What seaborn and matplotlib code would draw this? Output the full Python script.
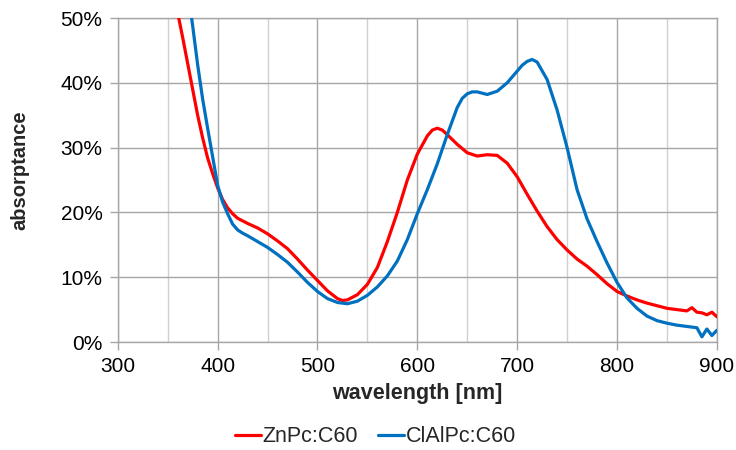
import numpy as np
import pandas as pd
import matplotlib
matplotlib.use("Agg")
import matplotlib.pyplot as plt
import seaborn as sns
from matplotlib.ticker import MultipleLocator, FuncFormatter

# ZnPc:C60 absorptance (%)
zn_wl = [355, 360, 365, 370, 375, 380, 385, 390, 395, 400, 405, 410, 415, 420, 430,
         440, 450, 460, 470, 480, 490, 500, 510, 520, 525, 530, 540, 550, 560, 570,
         580, 590, 600, 610, 615, 620, 625, 630, 640, 650, 660, 670, 680, 690, 700, 710, 720,
         730, 740, 750, 760, 770, 780, 790, 800, 810, 820, 830, 840, 850, 860, 870,
         875, 880, 885, 890, 895, 900]
zn_val = [55, 50.8, 47, 43, 39, 35, 31.5, 28.4, 26, 23.8, 22, 20.7, 19.8, 19.1, 18.3,
          17.6, 16.7, 15.6, 14.4, 12.8, 11.1, 9.5, 7.9, 6.7, 6.4, 6.5, 7.3, 8.9, 11.5, 15.5,
          20, 25, 29, 31.8, 32.7, 33, 32.7, 32, 30.5, 29.2, 28.7, 28.9, 28.8, 27.6, 25.5, 22.8, 20.2,
          17.8, 15.8, 14.2, 12.8, 11.7, 10.4, 9, 7.8, 7.1, 6.5, 6, 5.6, 5.2, 5.0, 4.8,
          5.3, 4.6, 4.5, 4.2, 4.6, 3.9]

# ClAlPc:C60 absorptance (%)
cl_wl = [368, 370, 375, 380, 385, 390, 395, 400, 405, 410, 415, 420, 425, 430, 440, 450,
         460, 470, 480, 490, 500, 510, 520, 530, 540, 550, 560, 570, 580, 590, 600,
         610, 620, 630, 640, 645, 650, 655, 660, 670, 680, 690, 700, 705, 710, 715, 720, 730, 740,
         750, 760, 770, 780, 790, 800, 810, 820, 830, 840, 850, 860, 870, 880, 885,
         890, 895, 900]
cl_val = [56, 54.5, 48.8, 42.8, 37.5, 33, 28.6, 24.2, 21.6, 19.8, 18.2, 17.3, 16.8, 16.4, 15.5, 14.6,
          13.5, 12.3, 10.8, 9.2, 7.8, 6.7, 6.1, 5.9, 6.3, 7.2, 8.5, 10.2, 12.5, 15.8, 19.8,
          23.5, 27.5, 32, 36.2, 37.6, 38.3, 38.6, 38.6, 38.2, 38.7, 40, 41.8, 42.7, 43.3, 43.6, 43.2, 40.5, 35.8,
          30, 23.5, 19, 15.5, 12.2, 9.2, 6.8, 5.2, 4.0, 3.3, 2.9, 2.6, 2.4, 2.2, 0.8,
          2.0, 1.0, 1.8]

series_names = ["ZnPc:C60", "ClAlPc:C60"]
colors = {"ZnPc:C60": "#FF0000", "ClAlPc:C60": "#0070C0"}

df = pd.concat([
    pd.DataFrame({"wavelength": zn_wl, "absorptance": zn_val, "sample": series_names[0]}),
    pd.DataFrame({"wavelength": cl_wl, "absorptance": cl_val, "sample": series_names[1]}),
], ignore_index=True)

sns.set_theme(style="white")
plt.rcParams["font.family"] = ["Liberation Sans", "DejaVu Sans"]

fig = plt.figure(figsize=(7.36, 4.5), dpi=100)
ax = fig.add_axes([0.160, 0.24, 0.814, 0.72])

sns.lineplot(data=df, x="wavelength", y="absorptance", hue="sample",
             palette=colors, hue_order=series_names, linewidth=2.3,
             sort=True, estimator=None, ax=ax, legend=False, zorder=3)

ax.set_xlim(300, 900)
ax.set_ylim(0, 50)
ax.xaxis.set_major_locator(MultipleLocator(100))
ax.xaxis.set_minor_locator(MultipleLocator(50))
ax.yaxis.set_major_locator(MultipleLocator(10))
ax.yaxis.set_major_formatter(FuncFormatter(lambda v, p: f"{v:.0f}%"))

ax.grid(which="major", axis="both", color="#A6A6A6", linewidth=1.0, zorder=0)
ax.grid(which="minor", axis="x", color="#D0D0D0", linewidth=1.0, zorder=0)
ax.set_axisbelow(True)

for s in ax.spines.values():
    s.set_color("#A6A6A6")
    s.set_linewidth(1.0)

ax.tick_params(axis="both", which="major", labelsize=15, colors="#000000",
               length=6, width=1.0, color="#A6A6A6", direction="out",
               bottom=True, left=True, pad=5)
ax.tick_params(axis="x", which="minor", length=0)

ax.set_xlabel("wavelength [nm]", fontsize=15.5, fontweight="bold", labelpad=5)
ax.set_ylabel("absorptance", fontsize=14.5, fontweight="bold")
ax.yaxis.set_label_coords(-0.147, 0.53)

handles = [plt.Line2D([0], [0], color=colors[n], linewidth=2.3) for n in series_names]
fig.legend(handles, series_names, loc="center", bbox_to_anchor=(0.51, 0.029),
           ncol=2, frameon=False, fontsize=15.5, handlelength=1.2,
           handletextpad=0.1, columnspacing=0.9)

fig.savefig("out.png", dpi=100)
